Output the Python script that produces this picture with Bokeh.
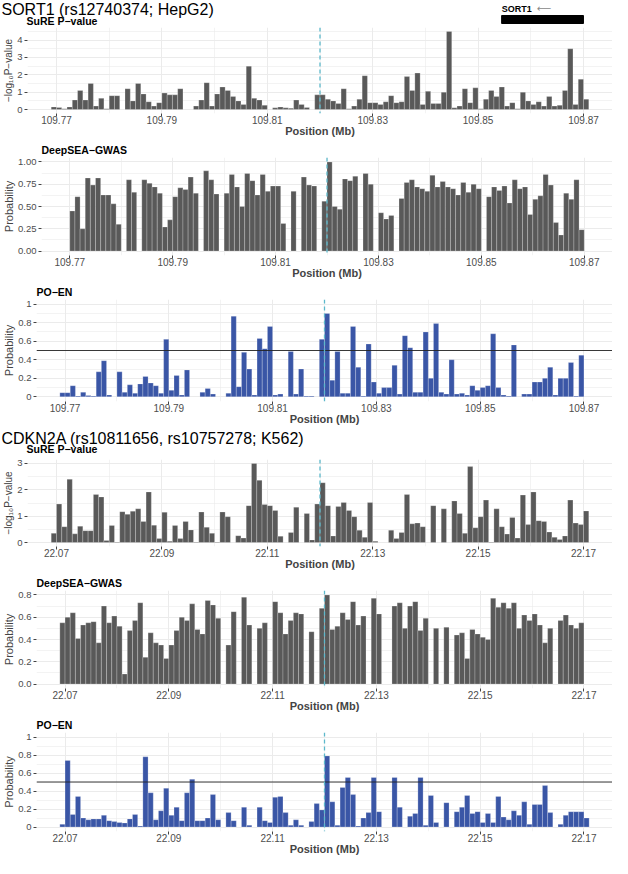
from bokeh.plotting import figure
from bokeh.layouts import column
from bokeh.models import (Range1d, FixedTicker, PrintfTickFormatter, Span, Label,
                          ColumnDataSource)
from bokeh.embed import file_html
from bokeh.resources import INLINE

# ---------------- data ----------------
sort1_bin_start = 109.769      # left edge of first 1-kb bin (Mb)
cdkn2a_bin_start = 22.069
bin_width = 0.001              # Mb

sort1_xlim = (109.7645, 109.8755)
cdkn2a_xlim = (22.0645, 22.1755)
sort1_xticks = [109.77, 109.79, 109.81, 109.83, 109.85, 109.87]
sort1_xminor = [109.78, 109.80, 109.82, 109.84, 109.86]
cdkn2a_xticks = [22.07, 22.09, 22.11, 22.13, 22.15, 22.17]
cdkn2a_xminor = [22.08, 22.10, 22.12, 22.14, 22.16]

sort1_snp = 109.8200
cdkn2a_snp = 22.1200
sort1_gene_start = 109.8545
sort1_gene_end = 109.8700
poen_threshold = 0.5

sort1_sure = [
    0.15, 0.12, 0.05, 0.15, 0.55, 1.1, 0.55, 1.5, 0.2, 0.65,
    0.05, 0.8, 0.8, 0, 1.2, 0.5, 1.5, 0.9, 0.45, 0.2,
    0.4, 0.95, 0.85, 0.85, 1.2, 0, 0, 0.2, 0.55, 1.55,
    0.2, 0.9, 1.3, 1.1, 0.75, 0.5, 0.3, 2.5, 0.65, 0.55,
    0.25, 0, 0.1, 0.15, 0.1, 0.08, 0.55, 0.3, 0.12, 0,
    0.85, 0.85, 0.6, 0.5, 0.35, 1.2, 0.05, 0.2, 0.6, 1.95,
    0.4, 0.4, 0.3, 0.45, 0.8, 0.4, 0.45, 1.9, 1.1, 2.1,
    0.3, 1.05, 0.35, 0.35, 1.0, 4.5, 0.1, 0.2, 1.2, 0.4,
    1.25, 0.05, 0.6, 1.1, 0.75, 1.3, 0.2, 0.4, 0.05, 1.0,
    0.5, 0.3, 0.45, 0.2, 0.75, 0.2, 0.25, 1.1, 3.5, 0.3,
    1.75, 0.6]

sort1_deepsea = [
    0, 0.45, 0.61, 0.25, 0.82, 0.74, 0.82, 0.63, 0.63, 0.53,
    0.3, 0, 0.8, 0.66, 0, 0.8, 0.76, 0.72, 0.65, 0.27,
    0.35, 0.61, 0.71, 0.69, 0.83, 0.65, 0, 0.9, 0.8, 0.64,
    0, 0.65, 0.86, 0.72, 0.5, 0.87, 0.79, 0.63, 0.86, 0.67,
    0.73, 0.73, 0.31, 0, 0.67, 0, 0.83, 0.74, 0.73, 0,
    0.56, 1.0, 0.5, 0.47, 0.81, 0.79, 0.84, 0, 0.87, 0.75,
    0, 0.43, 0.36, 0.40, 0, 0.59, 0.77, 0.8, 0.72, 0.7,
    0.67, 0.85, 0.72, 0.78, 0.72, 0.7, 0.63, 0.77, 0.66, 0.75,
    0.7, 0, 0.61, 0.72, 0.68, 0.73, 0.54, 0.8, 0.7, 0.72,
    0.41, 0.58, 0.62, 0.86, 0.74, 0.32, 0.18, 0.65, 0.58, 0.8,
    0.24, 0]

sort1_poen = [
    0.045, 0.045, 0.12, 0.01, 0.05, 0.015, 0.01, 0.27, 0.39, 0.02,
    0, 0.27, 0.05, 0.13, 0.04, 0.14, 0.22, 0.15, 0.12, 0.04,
    0.62, 0.07, 0.23, 0.02, 0.29, 0, 0, 0.05, 0.09, 0.03,
    0, 0, 0.04, 0.87, 0.11, 0.48, 0.3, 0.02, 0.63, 0.52,
    0.76, 0.02, 0.03, 0, 0.49, 0.03, 0.3, 0.01, 0.01, 0,
    0.62, 0.9, 0.18, 0.49, 0.04, 0.04, 0.76, 0.32, 0.01, 0.57,
    0.16, 0.04, 0.1, 0.1, 0.34, 0.03, 0.66, 0.53, 0.05, 0.05,
    0.7, 0.2, 0.79, 0.05, 0.03, 0.4, 0.03, 0.04, 0.02, 0.12,
    0.07, 0.1, 0.12, 0.68, 0.1, 0.02, 0.01, 0.56, 0, 0.03,
    0.03, 0.16, 0.16, 0.2, 0.32, 0.02, 0.2, 0.2, 0.37, 0.01,
    0.45, 0]

cdkn2a_sure = [
    0.35, 1.46, 0.6, 2.4, 0.33, 0.62, 0.45, 0.45, 1.82, 1.73,
    0.08, 0.65, 0.02, 1.17, 1.07, 1.19, 1.28, 0.8, 1.92, 0.66,
    0.15, 1.15, 0.05, 0.65, 0.15, 0.8, 0.48, 0.02, 1.16, 0.58,
    0.35, 0.02, 1.16, 0.98, 0, 0.26, 0.17, 1.4, 3.0, 2.36,
    1.44, 1.4, 1.22, 0.24, 0, 0.38, 1.34, 0, 1.1, 0.1,
    1.46, 2.27, 1.4, 0.25, 1.37, 1.52, 1.22, 0.98, 0.47, 0.2,
    1.52, 0.05, 0, 0, 0.47, 0.15, 0.38, 1.82, 0.71, 0.74,
    0.6, 0, 1.4, 0, 1.28, 0, 1.58, 1.1, 0.35, 2.88,
    0.56, 0.98, 1.61, 0.02, 1.28, 0.6, 0.32, 0.95, 0.17, 1.8,
    0.68, 1.92, 0.83, 0.8, 0.4, 0.2, 0.12, 0.25, 1.61, 0.74,
    0.68, 1.2]

cdkn2a_deepsea = [
    0.55, 0.6, 0.64, 0.41, 0.53, 0.55, 0.56, 0.37, 0.7, 0.55,
    0.61, 0.52, 0.09, 0.48, 0.57, 0.73, 0.24, 0.46, 0.37, 0.35,
    0.23, 0.35, 0.48, 0.6, 0.57, 0.72, 0.49, 0.45, 0.75, 0.71,
    0.59, 0, 0.35, 0.65, 0, 0.78, 0.53, 0, 0.5, 0.55,
    0, 0.74, 0.64, 0.45, 0.57, 0.64, 0.63, 0, 0.47, 0,
    0.68, 0.8, 0.49, 0.52, 0.64, 0.58, 0.74, 0.53, 0.61, 0,
    0.77, 0.63, 0, 0, 0.7, 0.73, 0.5, 0.7, 0.74, 0.48,
    0.59, 0, 0.5, 0, 0.51, 0, 0.44, 0.46, 0.23, 0.49,
    0.45, 0.42, 0.4, 0.77, 0.69, 0.73, 0.68, 0.73, 0.5, 0.62,
    0.57, 0.63, 0.53, 0.37, 0.5, 0, 0.57, 0.62, 0.53, 0.5,
    0.55, 0]

cdkn2a_poen = [
    0.03, 0.74, 0.14, 0.34, 0.1, 0.08, 0.09, 0.09, 0.13, 0.07,
    0.06, 0.05, 0.045, 0.09, 0.14, 0.01, 0.78, 0.38, 0.08, 0.18,
    0.43, 0.13, 0.22, 0.07, 0.38, 0.53, 0.07, 0.07, 0.1, 0.36,
    0.08, 0, 0.16, 0.07, 0, 0.22, 0.02, 0, 0.22, 0.07,
    0.05, 0.33, 0.34, 0.16, 0.02, 0.08, 0.02, 0, 0.06, 0.26,
    0.19, 0.79, 0.28, 0.02, 0.44, 0.55, 0.36, 0.01, 0.1, 0.16,
    0.55, 0.17, 0, 0, 0.55, 0.22, 0, 0.12, 0.15, 0.55,
    0.02, 0.35, 0.05, 0, 0.27, 0, 0.17, 0.22, 0.35, 0.15,
    0.17, 0.05, 0.15, 0.05, 0.34, 0.11, 0.08, 0.18, 0.13, 0.28,
    0.03, 0.25, 0.25, 0.46, 0.16, 0, 0.03, 0.13, 0.17, 0.17,
    0.17, 0.1]

# ---------------- styling ----------------
FONT = "Liberation Sans"
W = 612
GREY = "#595959"
BLUE = "#3A56A6"
SNP_COL = "#5CB8CB"
GRID = "#EBEBEB"
TICKLAB = "#4D4D4D"


def centers(start, vals):
    return [start + bin_width * (i + 0.5) for i in range(len(vals))]


def panel(subtitle, vals, start, xr, xticks, xminor, yr, yticks, yminor,
          yfmt, color, ylabel, snp, height, left, overrides=None, threshold=None,
          ylabel_size="11px", top=0):
    p = figure(width=W, height=height, x_range=xr, y_range=yr,
               title=subtitle, output_backend="svg", toolbar_location=None,
               min_border_left=left, min_border_right=0, min_border_top=top,
               min_border_bottom=0, frame_align=False)
    p.outline_line_color = None
    if subtitle:
        p.title.text_font = FONT
        p.title.text_font_size = "10.5px"
        p.title.text_font_style = "bold"
        p.title.text_color = "black"
        p.title.align = "left"
        p.title.standoff = 4
        p.title.offset = 0

    xs = centers(start, vals)
    src = ColumnDataSource(dict(x=[x for x, v in zip(xs, vals) if v > 0],
                                top=[v for v in vals if v > 0]))
    p.vbar(x="x", top="top", bottom=0, width=bin_width, source=src,
           fill_color=color, line_color="white", line_alpha=0.45, line_width=0.5)

    if threshold is not None:
        p.add_layout(Span(location=threshold, dimension="width",
                          line_color="#222222", line_width=0.9))
    p.add_layout(Span(location=snp, dimension="height", line_color=SNP_COL,
                      line_dash="4 3", line_width=1.3))

    for g in (p.xgrid[0], p.ygrid[0]):
        g.grid_line_color = GRID
        g.grid_line_width = 1
        g.minor_grid_line_color = GRID
        g.minor_grid_line_width = 0.6

    xa = p.xaxis[0]
    xa.ticker = FixedTicker(ticks=xticks, minor_ticks=xminor)
    xa.formatter = PrintfTickFormatter(format="%.2f")
    xa.axis_label = "Position (Mb)"
    xa.axis_label_text_font = FONT
    xa.axis_label_text_font_style = "bold"
    xa.axis_label_text_font_size = "11px"
    xa.axis_label_standoff = -2
    xa.axis_line_color = None
    xa.major_tick_line_color = "#444444"
    xa.major_tick_out = 3
    xa.major_tick_in = 0
    xa.minor_tick_line_color = None
    xa.major_label_text_font = FONT
    xa.major_label_text_font_size = "10px"
    xa.major_label_text_color = TICKLAB
    xa.major_label_standoff = -2

    ya = p.yaxis[0]
    ya.ticker = FixedTicker(ticks=yticks, minor_ticks=yminor)
    ya.formatter = PrintfTickFormatter(format=yfmt)
    if overrides:
        ya.major_label_overrides = overrides
    ya.axis_label = ylabel
    ya.axis_label_text_font = FONT
    ya.axis_label_text_font_style = "normal"
    ya.axis_label_text_font_size = ylabel_size
    ya.axis_label_standoff = 0
    ya.axis_line_color = None
    ya.major_tick_line_color = "#444444"
    ya.major_tick_out = 3
    ya.major_tick_in = 0
    ya.minor_tick_line_color = None
    ya.major_label_text_font = FONT
    ya.major_label_text_font_size = "9.5px"
    ya.major_label_text_color = TICKLAB
    ya.major_label_standoff = 1
    return p


def header(title, subtitle, height, sub_x, title_y, sub_y, mb_range=None):
    # frame spans the whole width; x in pixels (0..W), y in pixels from top
    h = figure(width=W, height=height, x_range=Range1d(0, W),
               y_range=Range1d(height, 0), title=None,
               x_axis_type=None, y_axis_type=None, output_backend="svg",
               toolbar_location=None, min_border=0, frame_align=False)
    h.outline_line_color = None
    h.add_layout(Label(x=1, y=title_y, text=title, text_font=FONT,
                       text_font_size="16px", text_baseline="top",
                       text_align="left", text_color="black"))
    h.add_layout(Label(x=sub_x, y=sub_y, text=subtitle, text_font=FONT,
                       text_font_size="10.5px", text_font_style="bold",
                       text_baseline="top", text_align="left", text_color="black"))
    if mb_range is not None:
        h.extra_x_ranges = {"mb": mb_range}
    return h


SUREL = "\u2212log\u2081\u2080P\u2212value"

# ---------- SORT1 ----------
L1, L2, L3 = 26, 36, 32
xr1 = Range1d(*sort1_xlim)
span1 = sort1_xlim[1] - sort1_xlim[0]
mb_hdr = Range1d(sort1_xlim[1] - W * span1 / (W - L1), sort1_xlim[1])
h1 = header("SORT1 (rs12740374; HepG2)", "SuRE P\u2212value", 27, L1, 0.5, 14,
            mb_hdr)
h1.quad(left=[sort1_gene_start], right=[sort1_gene_end], top=[15], bottom=[23],
        x_range_name="mb", fill_color="black", line_color="black")
h1.add_layout(Label(x=sort1_gene_start, y=3.5, x_range_name="mb", text="SORT1",
                    text_font=FONT, text_font_size="9px", text_font_style="bold",
                    text_baseline="top", text_color="black"))
h1.add_layout(Label(x=sort1_gene_start, y=2.5, x_offset=35, x_range_name="mb",
                    text="\u27f5", text_font="DejaVu Sans", text_font_size="10px",
                    text_baseline="top", text_color="#888888"))

p1 = panel(None, sort1_sure, sort1_bin_start, xr1, sort1_xticks, sort1_xminor,
           Range1d(-0.225, 4.725), [0, 1, 2, 3, 4], [0.5, 1.5, 2.5, 3.5, 4.5],
           "%d", GREY, SUREL, sort1_snp, 112, L1, ylabel_size="10px")
p2 = panel("DeepSEA\u2212GWAS", sort1_deepsea, sort1_bin_start, xr1, sort1_xticks,
           sort1_xminor, Range1d(-0.05, 1.05), [0, 0.25, 0.5, 0.75, 1.0],
           [0.125, 0.375, 0.625, 0.875], "%.2f", GREY, "Probability",
           sort1_snp, 142, L2)
p3 = panel("PO\u2212EN", sort1_poen, sort1_bin_start, xr1, sort1_xticks,
           sort1_xminor, Range1d(-0.05, 1.05), [0, 0.2, 0.4, 0.6, 0.8, 1.0],
           [0.1, 0.3, 0.5, 0.7, 0.9], "%.1f", BLUE, "Probability",
           sort1_snp, 146, L3, overrides={0: "0", 1: "1"}, threshold=poen_threshold)

# ---------- CDKN2A ----------
L4, L5, L6 = 26, 32, 32
xr2 = Range1d(*cdkn2a_xlim)
h2 = header("CDKN2A (rs10811656, rs10757278; K562)", "SuRE P\u2212value", 28, L4,
            2, 15)
p4 = panel(None, cdkn2a_sure, cdkn2a_bin_start, xr2, cdkn2a_xticks, cdkn2a_xminor,
           Range1d(-0.15, 3.15), [0, 1, 2, 3], [0.5, 1.5, 2.5],
           "%d", GREY, SUREL, cdkn2a_snp, 117, L4, ylabel_size="10px", top=4)
p5 = panel("DeepSEA\u2212GWAS", cdkn2a_deepsea, cdkn2a_bin_start, xr2, cdkn2a_xticks,
           cdkn2a_xminor, Range1d(-0.04, 0.84), [0, 0.2, 0.4, 0.6, 0.8],
           [0.1, 0.3, 0.5, 0.7], "%.1f", GREY, "Probability",
           cdkn2a_snp, 142, L5)
p6 = panel("PO\u2212EN", cdkn2a_poen, cdkn2a_bin_start, xr2, cdkn2a_xticks,
           cdkn2a_xminor, Range1d(-0.05, 1.05), [0, 0.2, 0.4, 0.6, 0.8, 1.0],
           [0.1, 0.3, 0.5, 0.7, 0.9], "%.1f", BLUE, "Probability",
           cdkn2a_snp, 143, L6, overrides={0: "0", 1: "1"}, threshold=poen_threshold)

layout = column(h1, p1, p2, p3, h2, p4, p5, p6, spacing=0)
open("out.html", "w").write(file_html(layout, INLINE))
